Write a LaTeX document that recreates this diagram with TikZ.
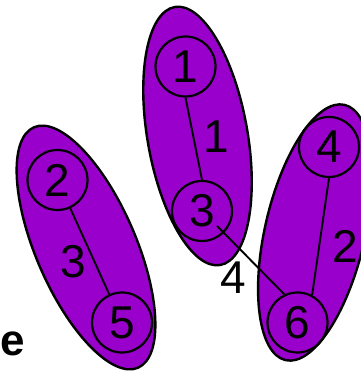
\documentclass[tikz,border=0pt]{standalone}
\usepackage{fontspec}
\setmainfont{Liberation Sans}
\definecolor{cluster}{HTML}{9900CC}
\begin{document}
\begin{tikzpicture}[x=1pt,y=1pt,
        vertex/.style={circle,draw,line width=2.2pt,minimum size=60pt,inner sep=0pt,font=\fontsize{46}{46}\selectfont},
        group/.style={draw,line width=2.4pt,fill=cluster},
        edge/.style={line width=1.9pt},
        wlabel/.style={inner sep=0pt,font=\fontsize{46}{46}\selectfont}]
    \useasboundingbox (0,0) rectangle (360,371);
    % groups
    \draw[group,rotate around={10:(197.5,235)}] (197.5,235) ellipse [x radius=50pt,y radius=131pt];
    \draw[group,rotate around={23.4:(86,123.5)}] (86,123.5) ellipse [x radius=50pt,y radius=131pt];
    \draw[group,rotate around={-13:(315,138.5)}] (315,138.5) ellipse [x radius=50pt,y radius=131pt];
    % vertices
    \node[vertex] (n1) at (185.5,304.5) {1};
    \node[vertex] (n3) at (202,160) {3};
    \node[vertex] (n2) at (57.5,191) {2};
    \node[vertex] (n5) at (122,48.5) {5};
    \node[vertex] (n4) at (329,224) {4};
    \node[vertex] (n6) at (297.5,48.5) {6};
    % edges
    \draw[edge] (n1.south) -- (n3.north);
    \draw[edge] (n2) -- (n5);
    \draw[edge] (n4.south) -- (n6.62);
    \draw[edge,shorten <=-10pt] (n3.-45) -- (n6.115);
    % weights
    \node[wlabel] (w13) at (216,234) {1};
    \node[wlabel] (w25) at (73,109) {3};
    \node[wlabel] (w46) at (345,125) {2};
    \node[wlabel] (w36) at (233,93) {4};
    \node[inner sep=0pt,anchor=base east,font=\bfseries\fontsize{44}{44}\selectfont] (tail) at (25,16) {e};
\end{tikzpicture}
\end{document}
